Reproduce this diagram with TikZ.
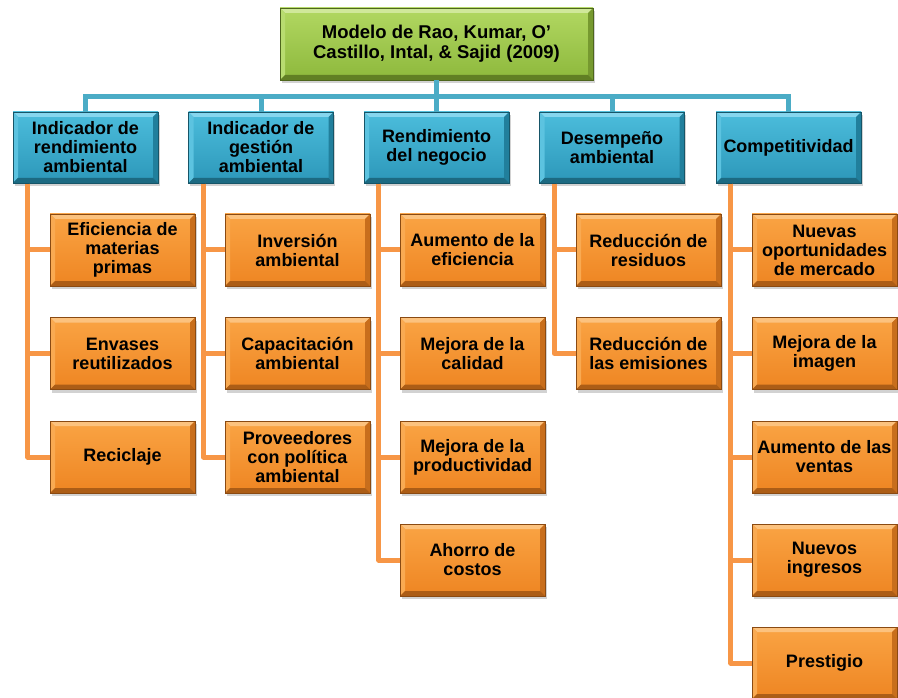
\documentclass[tikz,border=0pt]{standalone}
\usepackage{fontspec}
\setmainfont{Liberation Sans}
\usetikzlibrary{shadows}
\definecolor{bluMt}{HTML}{4CBDDC}
\definecolor{bluMb}{HTML}{2C97B9}
\definecolor{bluT}{HTML}{86D6EE}
\definecolor{bluL}{HTML}{5CC3E0}
\definecolor{bluR}{HTML}{217F9C}
\definecolor{bluB}{HTML}{1C6A82}
\definecolor{oraMt}{HTML}{FAA444}
\definecolor{oraMb}{HTML}{EE8522}
\definecolor{oraT}{HTML}{FCC27E}
\definecolor{oraL}{HTML}{F9AA52}
\definecolor{oraR}{HTML}{C86E1C}
\definecolor{oraB}{HTML}{AC5D16}
\definecolor{grnMt}{HTML}{B2D862}
\definecolor{grnMb}{HTML}{8DB83C}
\definecolor{grnT}{HTML}{D0E89A}
\definecolor{grnL}{HTML}{B8DC70}
\definecolor{grnR}{HTML}{76992F}
\definecolor{grnB}{HTML}{617F24}
\definecolor{blueline}{HTML}{4BACC6}
\definecolor{orangeline}{HTML}{F79646}
\tikzset{
  bevel/.style={
    top color=#1Mt, bottom color=#1Mb,
    draw=#1B!80!black, line width=0.4pt,
    drop shadow={opacity=0.35, shadow xshift=1.5pt, shadow yshift=-3pt},
    path picture={
      \fill[#1T] (path picture bounding box.north west) -- (path picture bounding box.north east)
        -- ([shift={(-5pt,-5pt)}]path picture bounding box.north east)
        -- ([shift={(5pt,-5pt)}]path picture bounding box.north west) -- cycle;
      \fill[#1L] (path picture bounding box.north west) -- ([shift={(5pt,-5pt)}]path picture bounding box.north west)
        -- ([shift={(5pt,5pt)}]path picture bounding box.south west)
        -- (path picture bounding box.south west) -- cycle;
      \fill[#1R] (path picture bounding box.north east) -- ([shift={(-5pt,-5pt)}]path picture bounding box.north east)
        -- ([shift={(-5pt,5pt)}]path picture bounding box.south east)
        -- (path picture bounding box.south east) -- cycle;
      \fill[#1B] (path picture bounding box.south west) -- (path picture bounding box.south east)
        -- ([shift={(-5pt,5pt)}]path picture bounding box.south east)
        -- ([shift={(5pt,5pt)}]path picture bounding box.south west) -- cycle;
    },
    font=\fontsize{18}{19}\selectfont\bfseries, align=center, inner sep=0pt
  },
  rootbox/.style={bevel=grn, minimum width=313pt, minimum height=72pt, font=\fontsize{18.5}{20}\selectfont\bfseries},
  headbox/.style={bevel=blu, minimum width=145pt, minimum height=71pt},
  leafbox/.style={bevel=ora, minimum width=145pt, minimum height=72pt},
  bline/.style={draw=blueline, line width=5pt},
  oline/.style={draw=orangeline, line width=5pt, line join=round}
}
\begin{document}
\begin{tikzpicture}[x=1pt,y=-1pt]
\useasboundingbox (0,0) rectangle (898,698);
\fill[white] (0,0) rectangle (898,698);
\coordinate (bus) at (0,97);
\node[rootbox] (root) at (436.5,44) {Modelo de Rao, Kumar, O’\\Castillo, Intal, \& Sajid (2009)};
\node[headbox] (A) at (85.5,147.5) {Indicador de\\rendimiento\\ambiental};
\node[headbox] (B) at (261,147.5) {Indicador de\\gestión\\ambiental};
\node[headbox] (C) at (436.5,147.5) {Rendimiento\\del negocio};
\node[headbox] (D) at (612,147.5) {Desempeño\\ambiental};
\node[headbox] (E) at (788.5,147.5) {Competitividad};
\foreach \h in {A,B,C,D,E}{
  \draw[bline] (root.south) -- (root.south |- bus) -- (\h.north |- bus) -- (\h.north);
}
\node[leafbox] (A1) at (122.5,250) {Eficiencia de\\materias\\primas};
\node[leafbox] (A2) at (122.5,353.5) {Envases\\reutilizados};
\node[leafbox] (A3) at (122.5,457) {Reciclaje};
\node[leafbox] (B1) at (297.5,250) {Inversión\\ambiental};
\node[leafbox] (B2) at (297.5,353.5) {Capacitación\\ambiental};
\node[leafbox] (B3) at (297.5,457) {Proveedores\\con política\\ambiental};
\node[leafbox] (C1) at (472.5,250) {Aumento de la\\eficiencia};
\node[leafbox] (C2) at (472.5,353.5) {Mejora de la\\calidad};
\node[leafbox] (C3) at (472.5,457) {Mejora de la\\productividad};
\node[leafbox] (C4) at (472.5,560) {Ahorro de\\costos};
\node[leafbox] (D1) at (648.5,250) {Reducción de\\residuos};
\node[leafbox] (D2) at (648.5,353.5) {Reducción de\\las emisiones};
\node[leafbox] (E1) at (824.5,250) {Nuevas\\oportunidades\\de mercado};
\node[leafbox] (E2) at (824.5,353.5) {Mejora de la\\imagen};
\node[leafbox] (E3) at (824.5,457) {Aumento de las\\ventas};
\node[leafbox] (E4) at (824.5,560) {Nuevos\\ingresos};
\node[leafbox] (E5) at (824.5,663) {Prestigio};
\foreach \h/\kids in {A/{A1,A2,A3},B/{B1,B2,B3},C/{C1,C2,C3,C4},D/{D1,D2},E/{E1,E2,E3,E4,E5}}{
  \foreach \k in \kids {
    \draw[oline] ([xshift=15pt,yshift=-0.5pt]\h.south west) |- (\k.west);
  }
}
\end{tikzpicture}
\end{document}
